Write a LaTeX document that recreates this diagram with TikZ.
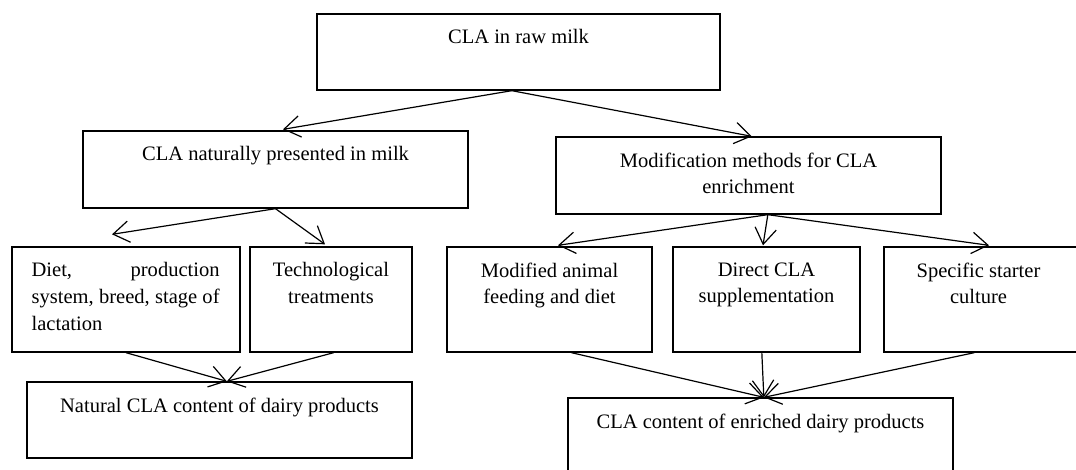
\documentclass[tikz,border=0pt]{standalone}
\usepackage{fontspec}
\setmainfont{Liberation Serif}
\usepackage{tikz}
\usetikzlibrary{arrows.meta, positioning}

\begin{document}
\begin{tikzpicture}[
    x=0.75pt, y=-0.75pt,
    box/.style={rectangle, draw, line width=1pt, inner sep=0pt},
    txt/.style={anchor=north, inner sep=0pt, align=center,
                font=\fontsize{15.4}{20}\selectfont},
    arrow/.style={-{Straight Barb[length=12pt, width=16pt]}, line width=0.9pt},
]
\useasboundingbox (0,0) rectangle (1076,469);

% top level
\node[box, minimum width=302.25pt, minimum height=57pt] (raw) at (518.5,52) {};
\node[txt] (rawt) at ([yshift=-12pt]raw.north) {CLA in raw milk};

% second level
\node[box, minimum width=288.75pt, minimum height=57.75pt] (nat) at (275.5,169.5) {};
\node[txt] (natt) at ([yshift=-12pt]nat.north) {CLA naturally presented in milk};
\node[box, minimum width=288.75pt, minimum height=57.75pt] (mod) at (748.5,175.5) {};
\node[txt] (modt) at ([yshift=-12pt]mod.north) {Modification methods for CLA\\enrichment};

% third level (natural)
\node[box, minimum width=171pt, minimum height=78.75pt] (diet) at (126,299.5) {};
\node[txt, anchor=north west, text width=141pt, align=justify] (dett)
    at ([shift={(20,16)}]diet.north west)
    {Diet, production\linebreak system, breed, stage of\linebreak lactation};
\node[box, minimum width=121.5pt, minimum height=78.75pt] (tech) at (331,299.5) {};
\node[txt] (techt) at ([yshift=-12pt]tech.north) {Technological\\treatments};

% third level (enrichment)
\node[box, minimum width=153.75pt, minimum height=78.75pt] (anim) at (549.5,299.5) {};
\node[txt] (animt) at ([yshift=-12pt]anim.north) {Modified animal\\feeding and diet};
\node[box, minimum width=140.25pt, minimum height=78.75pt] (dir) at (766.5,299.5) {};
\node[txt] (dirt) at ([yshift=-12pt]dir.north) {Direct CLA\\supplementation};
\node[box, minimum width=145.5pt, minimum height=78.75pt] (spec) at (981,299.5) {};
\node[txt] (spect) at ([shift={(-2.5,16)}]spec.north) {Specific starter\\culture};

% results
\node[box, minimum width=288.75pt, minimum height=57pt] (natc) at (219.5,420) {};
\node[txt] (natct) at ([yshift=-12pt]natc.north) {Natural CLA content of dairy products};
\node[box, minimum width=288.75pt, minimum height=61.5pt] (enr) at (760.5,439) {};
\node[txt] (enrt) at ([yshift=-12pt]enr.north) {CLA content of enriched dairy products};

% arrows
\draw[arrow] ([xshift=-5]raw.south) -- ([shift={(7.5,-1)}]nat.north);
\draw[arrow] ([xshift=-5]raw.south) -- ([xshift=2.5]mod.north);
\draw[arrow] (nat.south) -- ([shift={(-14,-12)}]diet.north);
\draw[arrow] (nat.south) -- ([shift={(-6,-2)}]tech.north);
\draw[arrow] ([xshift=14.5]mod.south) -- ([shift={(8.5,-1)}]anim.north);
\draw[arrow] ([xshift=14.5]mod.south) -- ([shift={(-3.5,-1)}]dir.north);
\draw[arrow] ([xshift=14.5]mod.south) -- ([shift={(8,-1)}]spec.north);
\draw[arrow] (diet.south) -- ([xshift=5.5]natc.north);
\draw[arrow] ([xshift=2]tech.south) -- ([xshift=5.5]natc.north);
\draw[arrow] ([xshift=16.5]anim.south) -- ([xshift=2.5]enr.north);
\draw[arrow] ([xshift=-3.5]dir.south) -- ([xshift=2.5]enr.north);
\draw[arrow] ([xshift=-5]spec.south) -- ([xshift=2.5]enr.north);

\end{tikzpicture}
\end{document}
